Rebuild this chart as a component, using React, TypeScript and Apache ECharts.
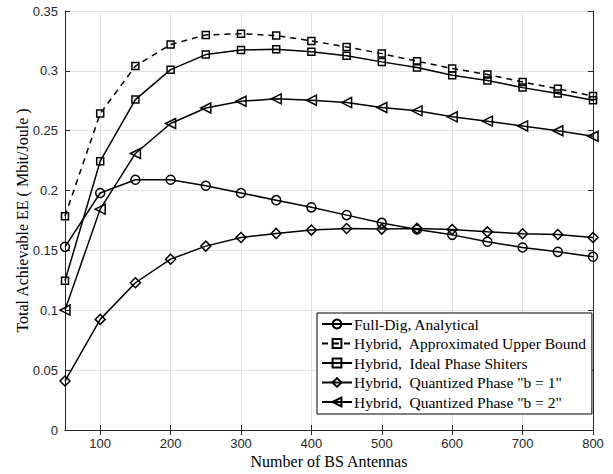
import React, { useEffect, useRef } from "react";
import * as echarts from "echarts";

const antennas = [50, 100, 150, 200, 250, 300, 350, 400, 450, 500, 550, 600, 650, 700, 750, 800];
const fullDig = [0.153, 0.198, 0.209, 0.209, 0.204, 0.198, 0.192, 0.186, 0.1795, 0.173, 0.1675, 0.163, 0.1572, 0.1525, 0.1488, 0.1447];
const upperBound = [0.1786, 0.2643, 0.304, 0.322, 0.330, 0.331, 0.3295, 0.325, 0.320, 0.3144, 0.308, 0.302, 0.297, 0.2907, 0.285, 0.279];
const idealPS = [0.1246, 0.2245, 0.276, 0.301, 0.3136, 0.3175, 0.318, 0.316, 0.3127, 0.3075, 0.3028, 0.2963, 0.292, 0.286, 0.281, 0.2755];
const quantB1 = [0.0409, 0.0924, 0.123, 0.1427, 0.1536, 0.1608, 0.1642, 0.167, 0.1683, 0.1678, 0.1684, 0.1675, 0.1655, 0.1639, 0.1633, 0.1608];
const quantB2 = [0.1002, 0.1845, 0.231, 0.256, 0.269, 0.2746, 0.2766, 0.2755, 0.2735, 0.2694, 0.2666, 0.2616, 0.258, 0.254, 0.250, 0.2454];
const xTicks = [100, 200, 300, 400, 500, 600, 700, 800];
const seriesNames = [
  "Full-Dig, Analytical",
  "Hybrid,  Approximated Upper Bound",
  "Hybrid,  Ideal Phase Shiters",
  'Hybrid,  Quantized Phase "b = 1"',
  'Hybrid,  Quantized Phase "b = 2"',
];

export default function App() {
  const ref = useRef<HTMLDivElement>(null);
  useEffect(() => {
    if (!ref.current) return;
    const chart = echarts.init(ref.current, undefined, { renderer: "svg" });
    const axisColor = "#262626";
    const gridColor = "#e3e3e3";
    const mk = (name: string, data: number[], symbol: string, size: number, dashed = false, rotate = 0) => ({
      name,
      type: "line",
      data: antennas.map((x, i) => [x, data[i]]),
      symbol,
      symbolSize: size,
      symbolRotate: rotate,
      showAllSymbol: true,
      lineStyle: { color: "#000", width: 1.5, type: dashed ? [6, 5] : "solid" },
      itemStyle: { color: "transparent", borderColor: "#000", borderWidth: 1.5 },
      emphasis: { disabled: true },
    });
    const serif = "'Liberation Serif', 'Times New Roman', serif";
    const sans = "'Liberation Sans', Arial, sans-serif";
    chart.setOption({
      animation: false,
      backgroundColor: "#fff",
      grid: { left: 65, right: 20, top: 11, bottom: 44 },
      legend: {
        orient: "vertical",
        left: 317,
        top: 313,
        width: 275,
        padding: [3, 5, 4, 4],
        itemGap: 3.5,
        itemWidth: 30,
        itemHeight: 11,
        backgroundColor: "#fff",
        borderColor: "#000",
        borderWidth: 1,
        borderRadius: 0,
        textStyle: { fontFamily: serif, fontSize: 15.5, color: "#000", padding: [0, 0, 0, -3] },
        data: seriesNames,
      },
      xAxis: [
        {
          type: "value",
          min: 50,
          max: 800,
          name: "Number of BS Antennas",
          nameLocation: "middle",
          nameGap: 23,
          nameMoveOverlap: false,
          nameTextStyle: { fontFamily: serif, fontSize: 16, color: "#000" },
          axisLine: { show: true, lineStyle: { color: axisColor, width: 1 } },
          axisTick: { show: true, inside: true, length: 5, customValues: xTicks, lineStyle: { color: axisColor } },
          axisLabel: { customValues: xTicks, fontFamily: sans, fontSize: 13, color: axisColor, margin: 7 },
          splitLine: { show: true, lineStyle: { color: gridColor } },
        },
        {
          type: "value",
          position: "top",
          min: 50,
          max: 800,
          axisLine: { show: true, lineStyle: { color: axisColor, width: 1 } },
          axisTick: { show: true, inside: true, length: 5, customValues: xTicks, lineStyle: { color: axisColor } },
          axisLabel: { show: false },
          splitLine: { show: false },
        },
      ],
      yAxis: [
        {
          type: "value",
          min: 0,
          max: 0.35,
          interval: 0.05,
          name: "Total Achievable EE ( Mbit/Joule )",
          nameLocation: "middle",
          nameGap: 35,
          nameMoveOverlap: false,
          nameTextStyle: { fontFamily: serif, fontSize: 16, color: "#000" },
          axisLine: { show: true, lineStyle: { color: axisColor, width: 1 } },
          axisTick: { show: true, inside: true, length: 5, lineStyle: { color: axisColor } },
          axisLabel: { fontFamily: sans, fontSize: 13, color: axisColor, margin: 7 },
          splitLine: { show: true, lineStyle: { color: gridColor } },
        },
        {
          type: "value",
          position: "right",
          min: 0,
          max: 0.35,
          interval: 0.05,
          axisLine: { show: true, lineStyle: { color: axisColor, width: 1 } },
          axisTick: { show: true, inside: true, length: 5, lineStyle: { color: axisColor } },
          axisLabel: { show: false },
          splitLine: { show: false },
        },
      ],
      series: [
        mk(seriesNames[0], fullDig, "circle", 9),
        mk(seriesNames[1], upperBound, "rect", 7, true),
        mk(seriesNames[2], idealPS, "rect", 7),
        mk(seriesNames[3], quantB1, "diamond", 10),
        mk(seriesNames[4], quantB2, "triangle", 10, false, 90),
      ],
    });
    return () => chart.dispose();
  }, []);
  return <div ref={ref} style={{ position: "fixed", left: 0, top: 0, width: 613, height: 474 }} />;
}
